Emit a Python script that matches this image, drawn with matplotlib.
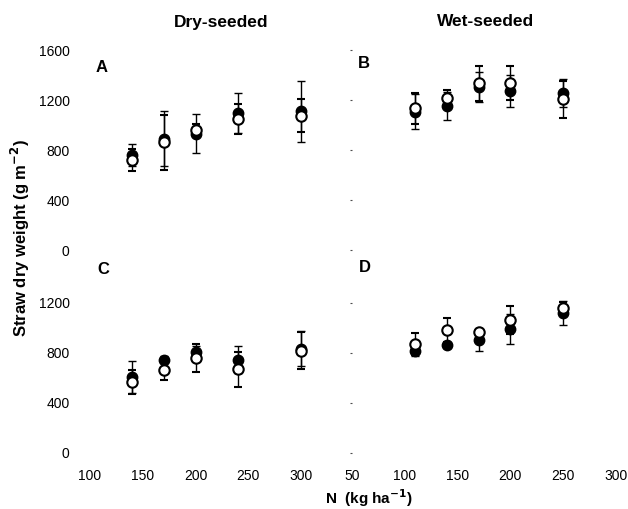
import matplotlib
matplotlib.use("Agg")
import matplotlib.pyplot as plt

plt.rcParams['font.family'] = ['Liberation Sans', 'DejaVu Sans']

# N rates (kg/ha)
n_dry = [140, 170, 200, 240, 300]
n_wet = [110, 140, 170, 200, 250]

# A: dry-seeded, top
a_filled = [760, 890, 930, 1096, 1110]
a_filled_err = [90, 220, 155, 160, 245]
a_open = [720, 862, 962, 1048, 1076]
a_open_err = [85, 220, 45, 120, 135]

# B: wet-seeded, top
b_filled = [1108, 1152, 1302, 1272, 1256]
b_filled_err = [140, 115, 120, 125, 112]
b_open = [1134, 1216, 1334, 1338, 1206]
b_open_err = [125, 62, 140, 135, 150]

# C: dry-seeded, bottom
c_filled = [610, 748, 812, 748, 836]
c_filled_err = [130, 25, 45, 105, 140]
c_open = [566, 668, 762, 672, 818]
c_open_err = [95, 80, 110, 140, 148]

# D: wet-seeded, bottom
d_filled = [820, 862, 902, 990, 1122]
d_filled_err = [40, 25, 82, 120, 98]
d_open = [872, 982, 966, 1064, 1162]
d_open_err = [90, 95, 30, 112, 45]

W, H = 628, 509
fig = plt.figure(figsize=(W / 100, H / 100), dpi=100)

def frac(x0, x1, y_bot, y_top):
    return [x0 / W, 1 - y_bot / H, (x1 - x0) / W, (y_bot - y_top) / H]

ax_a = fig.add_axes(frac(79.4, 311.8, 250, 43.75))
ax_b = fig.add_axes(frac(352, 621.3, 250, 43.75))
ax_c = fig.add_axes(frac(79.4, 311.8, 459.25, 253))
ax_d = fig.add_axes(frac(352, 621.3, 459.25, 253))

panels = [
    (ax_a, n_dry, a_filled, a_filled_err, a_open, a_open_err),
    (ax_b, n_wet, b_filled, b_filled_err, b_open, b_open_err),
    (ax_c, n_dry, c_filled, c_filled_err, c_open, c_open_err),
    (ax_d, n_wet, d_filled, d_filled_err, d_open, d_open_err),
]

for ax, x, yf, ef, yo, eo in panels:
    ax.errorbar(x, yf, yerr=ef, fmt='o', color='black', mfc='black', mec='black',
                ms=7.5, capsize=3, elinewidth=1, capthick=1, zorder=2)
    ax.errorbar(x, yo, yerr=eo, fmt='o', color='black', mfc='white', mec='black',
                ms=7.5, mew=1.5, capsize=3, elinewidth=1, capthick=1, zorder=3)
    for s in ax.spines.values():
        s.set_visible(False)
    ax.patch.set_alpha(0)

# x limits and ticks
for ax in (ax_a, ax_c):
    ax.set_xlim(90, 310)
    ax.set_xticks([100, 150, 200, 250, 300])
for ax in (ax_b, ax_d):
    ax.set_xlim(50, 305)
    ax.set_xticks([50, 100, 150, 200, 250, 300])

for ax in (ax_a, ax_b):
    ax.set_ylim(0, 1650)
    ax.set_yticks([0, 400, 800, 1200, 1600])
    ax.tick_params(axis='x', labelbottom=False, length=0)
for ax in (ax_c, ax_d):
    ax.set_ylim(-50, 1600)
    ax.set_yticks([0, 400, 800, 1200])
    ax.tick_params(axis='x', length=0, pad=7, labelsize=10)

for ax in (ax_a, ax_c):
    ax.tick_params(axis='y', length=0, pad=7, labelsize=10)
for ax in (ax_b, ax_d):
    ax.tick_params(axis='y', labelleft=False, length=1.5, width=0.8, color='0.3')

# panel letters
fig.text(102 / W, 1 - 68 / H, 'A', fontsize=12, fontweight='bold', ha='center', va='center')
fig.text(364 / W, 1 - 63 / H, 'B', fontsize=12, fontweight='bold', ha='center', va='center')
fig.text(103 / W, 1 - 269 / H, 'C', fontsize=12, fontweight='bold', ha='center', va='center')
fig.text(365 / W, 1 - 267 / H, 'D', fontsize=12, fontweight='bold', ha='center', va='center')

# column titles
fig.text(221 / W, 1 - 22 / H, 'Dry-seeded', fontsize=12.5, fontweight='bold', ha='center', va='center')
fig.text(486 / W, 1 - 22 / H, 'Wet-seeded', fontsize=12.5, fontweight='bold', ha='center', va='center')

# axis labels
fig.text(20 / W, 1 - 238 / H, 'Straw dry weight (g m$^{\\mathbf{-2}}$)', fontsize=12,
         fontweight='bold', rotation=90, ha='center', va='center')
fig.text(369 / W, 1 - 498 / H, 'N  (kg ha$^{\\mathbf{-1}}$)', fontsize=11,
         fontweight='bold', ha='center', va='center')

fig.savefig('out.png', dpi=100)
